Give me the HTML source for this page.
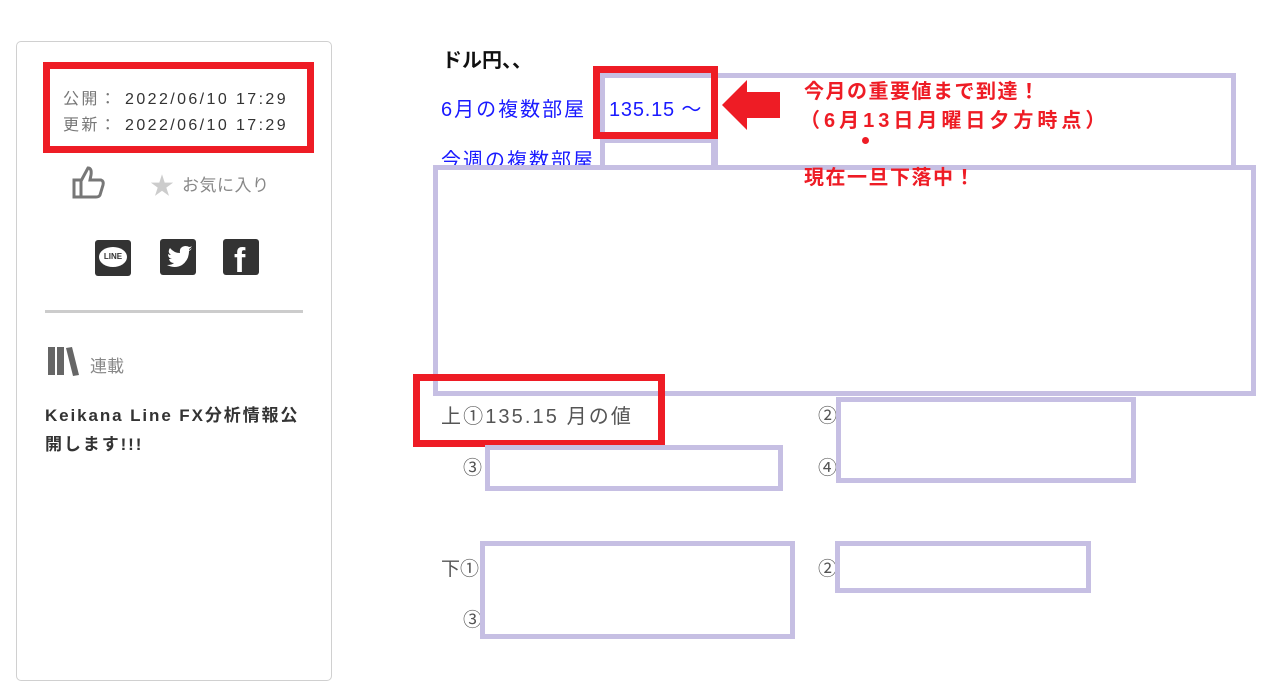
<!DOCTYPE html>
<html><head><meta charset="utf-8"><style>
body{margin:0;width:1263px;height:677px;background:#fff;position:relative;overflow:hidden;font-family:"Liberation Sans","Noto Sans CJK JP",sans-serif;}
.a{position:absolute;box-sizing:border-box;}
.lv{border:5px solid #c6bfe3;}
.rd{border:7px solid #ee1c25;}
.t{position:absolute;white-space:nowrap;}
.ic{position:absolute;width:36px;height:36px;background:#333;border-radius:3px;}
.r{font-size:20px;font-weight:bold;color:#ee1c25;letter-spacing:1.5px;}
</style></head><body>
<div class="a" style="left:16px;top:41px;width:316px;height:640px;border:1px solid #d0d0d0;border-radius:5px;"></div>
<div class="a rd" style="left:43px;top:62px;width:271px;height:91px;"></div>
<div class="t" style="left:63px;top:85px;font-size:16px;color:#333;letter-spacing:2.4px;"><span style="color:#777">公開：</span> 2022/06/10 17:29</div>
<div class="t" style="left:63px;top:111px;font-size:16px;color:#333;letter-spacing:2.4px;"><span style="color:#777">更新：</span> 2022/06/10 17:29</div>
<svg class="a" style="left:71px;top:164px" width="36" height="36" viewBox="0 0 36 36"><path d="M3 16h7v17H3z M10 17 L17 4 q4 0 3 7 l-1 5 h11 q3 1 2 5 l-3 10 q-1 2 -4 2 H10" fill="none" stroke="#777" stroke-width="3"/></svg>
<div class="t" style="left:150px;top:166px;font-size:24px;color:#ccc;">★</div>
<div class="t" style="left:182px;top:171px;font-size:17px;color:#888;letter-spacing:0.5px;">お気に入り</div>
<div class="ic" style="left:95px;top:240px;"><div style="position:absolute;left:4px;top:7px;width:28px;height:20px;background:#fff;border-radius:50%;font-size:8px;font-weight:bold;color:#333;text-align:center;line-height:20px;">LINE</div></div>
<div class="ic" style="left:160px;top:239px;"><svg width="36" height="36" viewBox="0 0 36 36"><path d="M29 11 q2 -1 3 -2 q-1 2 -3 3 q0 9 -7 14 q-7 4 -15 0 q5 0 7 -2 q-4 0 -5 -4 h3 q-4 -1 -4 -5 q1 1 3 1 q-4 -3 -1 -7 q4 5 10 5 q-1 -6 5 -7 q3 0 4 1 q2 0 3 -1 q-1 2 -3 3z" fill="#fff"/></svg></div>
<div class="ic" style="left:223px;top:239px;"><div style="color:#fff;font-size:34px;font-weight:bold;position:absolute;left:11px;top:4px;line-height:36px;">f</div></div>
<div class="a" style="left:45px;top:310px;width:258px;height:3px;background:#ccc;"></div>
<svg class="a" style="left:47px;top:345px" width="34" height="32" viewBox="0 0 34 32"><rect x="1" y="2" width="7" height="28" fill="#666"/><rect x="10" y="2" width="7" height="28" fill="#666"/><path d="M19 3 l6 -1 l7 28 l-6 1z" fill="#666"/></svg>
<div class="t" style="left:90px;top:352px;font-size:17px;color:#888;">連載</div>
<div class="t" style="left:45px;top:401px;font-size:17px;font-weight:bold;color:#333;line-height:29px;letter-spacing:1.9px;">Keikana Line FX分析情報公<br>開します!!!</div>

<div class="t" style="left:442px;top:44px;font-size:20px;font-weight:bold;color:#111;">ドル円、、</div>
<div class="t" style="left:441px;top:93px;font-size:20px;color:#1a1aff;letter-spacing:2px;">6月の複数部屋</div>
<div class="t" style="left:441px;top:144px;font-size:20px;color:#1a1aff;letter-spacing:2px;">今週の複数部屋</div>
<div class="a lv" style="left:600px;top:73px;width:636px;height:97px;"></div>
<div class="a lv" style="left:600px;top:138px;width:118px;height:32px;"></div>
<div class="a" style="left:711px;top:73px;width:5px;height:95px;background:#c6bfe3;"></div>
<div class="a lv" style="left:433px;top:165px;width:823px;height:231px;"></div>
<div class="a rd" style="left:593px;top:66px;width:125px;height:73px;"></div>
<div class="t" style="left:609px;top:93px;font-size:20px;color:#1a1aff;letter-spacing:0.8px;">135.15 ～</div>
<svg class="a" style="left:720px;top:78px" width="62" height="54" viewBox="0 0 62 54"><path d="M2 27 L27 2 V14 H60 V40 H27 V52 Z" fill="#ee1c25"/></svg>
<div class="t r" style="left:804px;top:75px;">今月の重要値まで到達！</div>
<div class="t r" style="left:800px;top:104px;letter-spacing:4px;">（6月13日月曜日夕方時点）</div>
<div class="a" style="left:862px;top:137px;width:7px;height:7px;border-radius:50%;background:#ee1c25;"></div>
<div class="t r" style="left:804px;top:161px;">現在一旦下落中！</div>

<div class="a rd" style="left:413px;top:374px;width:252px;height:73px;"></div>
<div class="t" style="left:441px;top:400px;font-size:20px;color:#555;letter-spacing:2.1px;">上①135.15 月の値</div>
<div class="t" style="left:818px;top:401px;font-size:19px;color:#555;">②</div>
<div class="t" style="left:818px;top:453px;font-size:19px;color:#555;">④</div>
<div class="t" style="left:463px;top:453px;font-size:19px;color:#555;">③</div>
<div class="a lv" style="left:836px;top:397px;width:300px;height:86px;"></div>
<div class="a lv" style="left:485px;top:445px;width:298px;height:46px;"></div>
<div class="t" style="left:441px;top:554px;font-size:19px;color:#555;">下①</div>
<div class="t" style="left:463px;top:605px;font-size:19px;color:#555;">③</div>
<div class="t" style="left:818px;top:554px;font-size:19px;color:#555;">②</div>
<div class="a lv" style="left:480px;top:541px;width:315px;height:98px;"></div>
<div class="a lv" style="left:835px;top:541px;width:256px;height:52px;"></div>
</body></html>
